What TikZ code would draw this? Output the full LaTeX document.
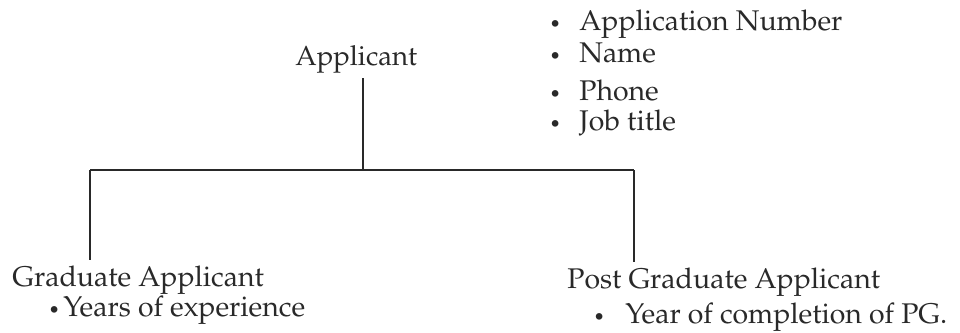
\documentclass[tikz,border=0pt]{standalone}
\usepackage[T1]{fontenc}
\usepackage{mathpazo}
\usepackage{tikz}
\usetikzlibrary{positioning, calc}
\definecolor{ink}{rgb}{0.16,0.16,0.16}
\tikzstyle{title}=[%
      anchor=base west, inner sep=0pt, text=ink,
      font=\fontsize{16.2}{19}\selectfont
]
\tikzstyle{attr}=[%
      anchor=base west, inner sep=0pt, text=ink,
      font=\fontsize{16.2}{19}\selectfont
]
\tikzstyle{link}=[%
      draw=ink, line width=1.1pt
]
\newcommand{\dotitem}[2]{\makebox[#1][l]{\fontsize{11}{11}\selectfont\textbullet}#2}

\begin{document}
\begin{tikzpicture}[x=0.02cm, y=-0.02cm]
    \useasboundingbox (0,0) rectangle (960,332);

    \node[title, font=\fontsize{15.7}{19}\selectfont] (appl) at (295,65) {Applicant};
    \node[attr] (num)   at (549,30)  {\dotitem{0.6cm}{Application Number}};
    \node[attr] (name)  at (549,62)  {\dotitem{0.6cm}{Name}};
    \node[attr] (phone) at (549,100) {\dotitem{0.6cm}{Phone}};
    \node[attr] (job)   at (549,130) {\dotitem{0.6cm}{Job title}};

    \node[title] (grad) at (12,286) {Graduate Applicant};
    \node[attr] (exp)   at (48,316) {\dotitem{0.3cm}{Years of experience}};
    \node[title] (pg)   at (567,288) {Post Graduate Applicant};
    \node[attr] (pgyr)  at (593,323) {\dotitem{0.64cm}{Year of completion of PG.}};

    \coordinate (hub)   at (363,170);
    \coordinate (gleg)  at (90,170);
    \coordinate (pgleg) at (634,170);

    \draw[link, shorten <=3pt] (appl.south -| hub) -- (hub);
    \draw[link] (gleg) -- (pgleg);
    \draw[link, shorten >=3pt] (gleg) -- (gleg |- grad.north);
    \draw[link, shorten >=3pt] (pgleg) -- (pgleg |- pg.north);

  \end{tikzpicture}
\end{document}
